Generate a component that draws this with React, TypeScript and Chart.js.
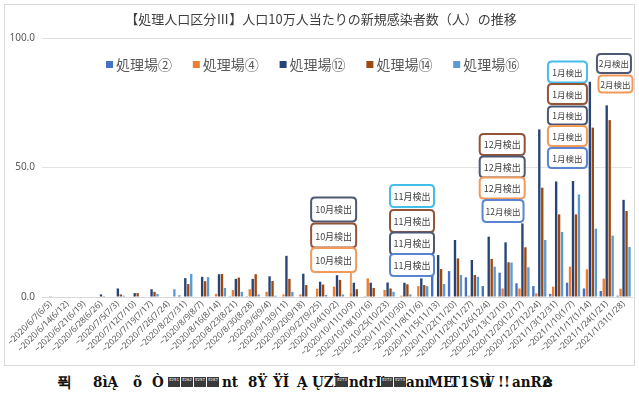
import React, { useEffect, useRef } from "react";
import { Chart, registerables } from "chart.js";

Chart.register(...registerables);

// Weekly periods (week ending date, with the reporting Friday in brackets)
const categories = [
  "~2020/6/7(6/5)", "~2020/6/14(6/12)", "~2020/6/21(6/19)", "~2020/6/28(6/26)",
  "~2020/7/5(7/3)", "~2020/7/12(7/10)", "~2020/7/19(7/17)", "~2020/7/26(7/24)",
  "~2020/8/2(7/31)", "~2020/8/9(8/7)", "~2020/8/16(8/14)", "~2020/8/23(8/21)",
  "~2020/8/30(8/28)", "~2020/9/6(9/4)", "~2020/9/13(9/11)", "~2020/9/20(9/18)",
  "~2020/9/27(9/25)", "~2020/10/4(10/2)", "~2020/10/11(10/9)", "~2020/10/18(10/16)",
  "~2020/10/25(10/23)", "~2020/11/1(10/30)", "~2020/11/8(11/6)", "~2020/11/15(11/13)",
  "~2020/11/22(11/20)", "~2020/11/29(11/27)", "~2020/12/6(12/4)", "~2020/12/13(12/10)",
  "~2020/12/20(12/17)", "~2020/12/27(12/24)", "~2021/1/3(12/31)", "~2021/1/10(1/7)",
  "~2021/1/17(1/14)", "~2021/1/24(1/21)", "~2021/1/31(1/28)",
];

const seriesNames = ["処理場②", "処理場④", "処理場⑫", "処理場⑭", "処理場⑯"];

// New cases per 100,000 people, per plant
const plant02 = [
  0, 0, 0, 0, 0, 0, 0, 0, 0.6, 0, 0, 0.3, 0.3, 0, 0, 0, 0, 0, 0, 0.3,
  0, 0, 0, 9.4, 10, 7.6, 4.2, 9.4, 5.3, 4.2, 1.2, 5.5, 3.3, 2.3, 0.5,
];
const plant04 = [
  0, 0, 0, 0, 0, 0, 0, 0, 0, 0, 1.2, 2.7, 3, 2, 1, 1, 3.2, 4, 1.5, 7.2,
  2.7, 0.5, 4.2, 0, 0, 0.5, 0, 3.3, 3.3, 1.4, 4, 11.7, 10.7, 7.1, 3.2,
];
const plant12 = [
  0.1, 0, 0, 1, 3.3, 1.5, 3, 0, 7.3, 7.8, 8.8, 7, 7, 8, 15.9, 9, 5.9, 8.4, 5.5, 5.5,
  5.6, 5.5, 7.2, 16.2, 22, 14.3, 23.3, 21.1, 28.4, 64.7, 44.6, 44.8, 83.1, 74, 37.5,
];
const plant14 = [
  0, 0, 0, 0.3, 1, 1.5, 2, 0, 5, 6.1, 8.9, 7.5, 8.8, 6.2, 7, 4.6, 4.8, 6.6, 3, 3.5,
  3.3, 4.9, 4.6, 10.8, 14.9, 8.5, 14.7, 13.4, 19.2, 42.2, 31.9, 31.9, 65.4, 68.3, 33.2,
];
const plant16 = [
  0, 0, 0, 0, 0.5, 0, 1.2, 3, 8.9, 7.7, 3.5, 2, 1, 0.5, 2, 0, 0.8, 1, 0, 0,
  2, 1, 4.2, 5, 8.5, 7.8, 11.7, 13.3, 11.5, 22, 25.1, 39.6, 26.4, 23.7, 19.3,
];

const seriesValues = [plant02, plant04, plant12, plant14, plant16];
const seriesColors = ["#4472C4", "#ED7D31", "#264478", "#9E480E", "#5B9BD5"];

const yMin = 0;
const yMax = 100;
const yStep = 50;

const titleText = "【処理人口区分Ⅲ】人口10万人当たりの新規感染者数（人）の推移";

// Detection notes: series index, box centre (category position, value level), box size
const calloutBorder = ["#5A84CF", "#F09A5C", "#4F5873", "#93553A", "#45BDEB"];
const callouts = [
  { text: "10月検出", series: 2, at: 16.8, level: 33.8, w: 45, h: 24 },
  { text: "10月検出", series: 3, at: 16.8, level: 23.7, w: 45, h: 24 },
  { text: "10月検出", series: 1, at: 16.8, level: 14.3, w: 45, h: 24, leader: 18 },
  { text: "11月検出", series: 4, at: 21.45, level: 39.0, w: 44, h: 22 },
  { text: "11月検出", series: 3, at: 21.45, level: 29.3, w: 44, h: 22 },
  { text: "11月検出", series: 2, at: 21.45, level: 20.7, w: 44, h: 22 },
  { text: "11月検出", series: 0, at: 21.45, level: 12.4, w: 44, h: 22 },
  { text: "12月検出", series: 3, at: 26.8, level: 58.9, w: 45, h: 21 },
  { text: "12月検出", series: 2, at: 26.8, level: 50.2, w: 45, h: 21 },
  { text: "12月検出", series: 1, at: 26.8, level: 42.1, w: 45, h: 21 },
  { text: "12月検出", series: 0, at: 26.85, level: 33.2, w: 41, h: 22 },
  { text: "1月検出", series: 4, at: 30.67, level: 86.9, w: 39, h: 21 },
  { text: "1月検出", series: 3, at: 30.67, level: 78.4, w: 39, h: 20 },
  { text: "1月検出", series: 2, at: 30.67, level: 70.1, w: 39, h: 18 },
  { text: "1月検出", series: 1, at: 30.67, level: 62.2, w: 39, h: 20 },
  { text: "1月検出", series: 0, at: 30.67, level: 53.7, w: 39, h: 20 },
  { text: "2月検出", series: 2, at: 33.43, level: 90.2, w: 34, h: 19 },
  { text: "2月検出", series: 1, at: 33.52, level: 82.2, w: 34, h: 17 },
];

// Garbled footer line as printed under the chart
const footerTokens: { t: string; x: number; box?: boolean }[] = [
  { t: "퓍", x: 57 },
  { t: "8ìĄ", x: 93 },
  { t: "õ", x: 133 },
  { t: "Ò", x: 152 },
  { t: "E251", x: 168, box: true },
  { t: "E262", x: 181, box: true },
  { t: "E257", x: 194, box: true },
  { t: "E287", x: 207, box: true },
  { t: "nt", x: 222 },
  { t: "8Ÿ", x: 248 },
  { t: "ŸĬ", x: 273 },
  { t: "Ą", x: 297 },
  { t: "ŲZĬ", x: 312 },
  { t: "E273", x: 336, box: true },
  { t: "ndrĽ", x: 349 },
  { t: "E272", x: 381, box: true },
  { t: "E273", x: 394, box: true },
  { t: "anı", x: 406 },
  { t: "ME", x: 428 },
  { t: "T1SW", x: 450 },
  { t: "Ì", x: 485 },
  { t: "!!", x: 498 },
  { t: "anR2", x: 512 },
  { t: "ɞ", x: 543 },
];

const CJK = '"Noto Sans CJK JP", "Noto Sans", sans-serif';

function roundedRect(ctx: CanvasRenderingContext2D, x: number, y: number, w: number, h: number, r: number) {
  ctx.beginPath();
  ctx.moveTo(x + r, y);
  ctx.lineTo(x + w - r, y);
  ctx.quadraticCurveTo(x + w, y, x + w, y + r);
  ctx.lineTo(x + w, y + h - r);
  ctx.quadraticCurveTo(x + w, y + h, x + w - r, y + h);
  ctx.lineTo(x + r, y + h);
  ctx.quadraticCurveTo(x, y + h, x, y + h - r);
  ctx.lineTo(x, y + r);
  ctx.quadraticCurveTo(x, y, x + r, y);
  ctx.closePath();
}

const decorPlugin = {
  id: "decor",
  beforeDraw(chart: any) {
    const ctx: CanvasRenderingContext2D = chart.ctx;
    ctx.save();
    ctx.fillStyle = "#ffffff";
    ctx.fillRect(0, 0, chart.width, chart.height);
    ctx.strokeStyle = "#d9d9d9";
    ctx.lineWidth = 1;
    ctx.strokeRect(4.5, 4.5, chart.width - 9, chart.height - 9);
    ctx.restore();
  },
  afterDraw(chart: any) {
    const ctx: CanvasRenderingContext2D = chart.ctx;
    const xs = chart.scales.x;
    const ys = chart.scales.y;
    ctx.save();

    // title
    ctx.fillStyle = "#404040";
    ctx.font = `13px ${CJK}`;
    ctx.textAlign = "center";
    ctx.textBaseline = "middle";
    ctx.fillText(titleText, 321, 19);

    // legend
    ctx.font = `14px ${CJK}`;
    ctx.textAlign = "left";
    let lx = 106;
    seriesNames.forEach((name, i) => {
      ctx.fillStyle = seriesColors[i];
      ctx.fillRect(lx, 61, 7, 7);
      ctx.fillStyle = "#595959";
      ctx.fillText(name, lx + 10, 65);
      lx += 86.8;
    });

    // detection callouts
    callouts.forEach((c) => {
      const cx = xs.getPixelForValue(c.at);
      const cy = ys.getPixelForValue(c.level);
      const x0 = cx - c.w / 2;
      const y0 = cy - c.h / 2;
      const color = calloutBorder[c.series];
      if (c.leader !== undefined) {
        const bar = chart.getDatasetMeta(c.series).data[c.leader];
        ctx.strokeStyle = color;
        ctx.lineWidth = 2;
        ctx.beginPath();
        ctx.moveTo(bar.x, y0 + c.h);
        ctx.lineTo(bar.x, bar.y);
        ctx.stroke();
      }
      roundedRect(ctx, x0, y0, c.w, c.h, 4);
      ctx.fillStyle = "#ffffff";
      ctx.fill();
      ctx.strokeStyle = color;
      ctx.lineWidth = 2;
      ctx.stroke();
      ctx.fillStyle = "#404040";
      ctx.font = `${c.w < 42 ? 8.5 : 9}px ${CJK}`;
      ctx.textAlign = "center";
      ctx.textBaseline = "middle";
      ctx.fillText(c.text, cx, cy + 0.5);
    });

    ctx.restore();
  },
};

export default function App() {
  const canvasRef = useRef<HTMLCanvasElement | null>(null);

  useEffect(() => {
    document.body.style.margin = "0";
    const canvas = canvasRef.current;
    if (!canvas) return;
    const chart = new Chart(canvas, {
      type: "bar",
      data: {
        labels: categories,
        datasets: seriesNames.map((name, i) => ({
          label: name,
          data: seriesValues[i],
          backgroundColor: seriesColors[i],
          borderWidth: 0,
          categoryPercentage: 0.88,
          barPercentage: 0.8,
        })),
      },
      options: {
        responsive: false,
        animation: false,
        devicePixelRatio: 1,
        layout: { padding: { left: 0, right: 7, top: 38, bottom: 0 } },
        plugins: {
          legend: { display: false },
          title: { display: false },
          tooltip: { enabled: false },
        },
        scales: {
          x: {
            grid: { display: false, drawTicks: false },
            border: { display: true, color: "#d9d9d9", width: 1 },
            ticks: {
              autoSkip: false,
              maxRotation: 45,
              minRotation: 45,
              padding: 2,
              color: "#595959",
              font: { family: "Noto Sans", size: 8.5 },
            },
            afterFit: (scale: any) => {
              scale.height = 73;
            },
          },
          y: {
            min: yMin,
            max: yMax,
            grid: { color: "#e3e3e3", drawTicks: false },
            border: { display: false },
            ticks: {
              stepSize: yStep,
              padding: 7,
              color: "#595959",
              font: { family: "Noto Sans", size: 10 },
              callback: (v: any) => Number(v).toFixed(1),
            },
            afterFit: (scale: any) => {
              scale.width = 42;
            },
          },
        },
      },
      plugins: [decorPlugin],
    });
    return () => chart.destroy();
  }, []);

  return (
    <div style={{ position: "relative", width: 639, height: 401, background: "#ffffff", overflow: "hidden" }}>
      <canvas ref={canvasRef} width={639} height={370} style={{ position: "absolute", left: 0, top: 0, display: "block" }} />
      {footerTokens.map((tk, i) =>
        tk.box ? (
          <span
            key={i}
            style={{
              position: "absolute",
              left: tk.x,
              top: 377,
              width: 12,
              height: 10,
              background: "#3a3a3a",
              color: "#ffffff",
              fontFamily: "DejaVu Sans Mono, monospace",
              fontSize: 4,
              lineHeight: "5px",
              textAlign: "center",
              overflow: "hidden",
              wordBreak: "break-all",
            }}
          >
            {tk.t}
          </span>
        ) : (
          <span
            key={i}
            style={{
              position: "absolute",
              left: tk.x,
              top: 371,
              fontFamily: '"DejaVu Serif Condensed", "DejaVu Serif", serif',
              fontWeight: "bold",
              fontStretch: "condensed",
              fontSize: 15,
              lineHeight: "22px",
              color: "#111111",
              whiteSpace: "nowrap",
            }}
          >
            {tk.t}
          </span>
        )
      )}
    </div>
  );
}
